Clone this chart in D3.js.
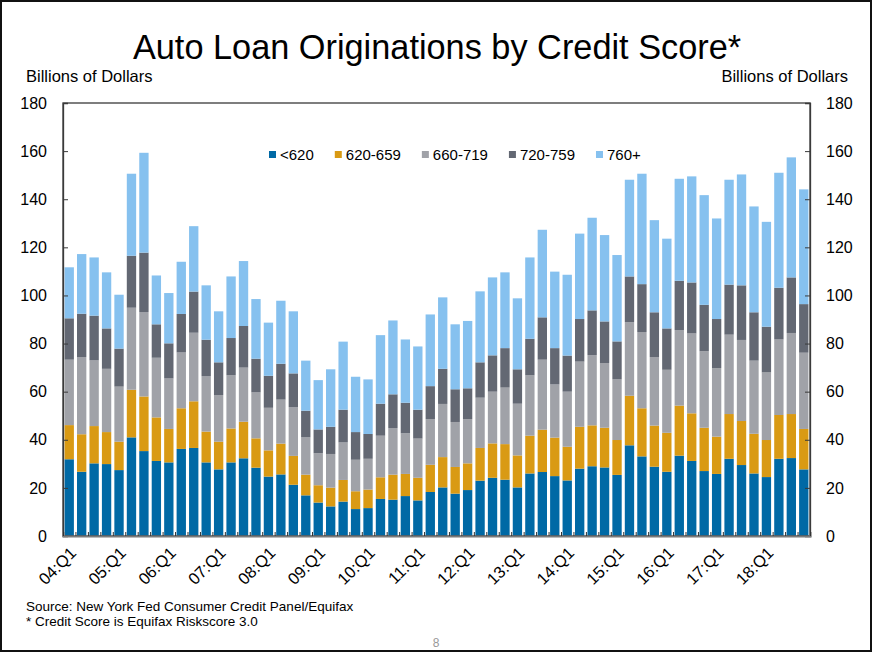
<!DOCTYPE html>
<html>
<head>
<meta charset="utf-8">
<script src="https://cdn.jsdelivr.net/npm/d3@7"></script>
<style>
  body { margin: 0; background: #fff; }
  text { font-family: "Liberation Sans", Arial, sans-serif; fill: #000; }
</style>
</head>
<body>
<div class="canvas"></div>
<script>
// data, billions of dollars per quarter, 04:Q1 .. 18:Q4
const years = ['04','05','06','07','08','09','10','11','12','13','14','15','16','17','18'];
const quarters = years.flatMap(y => ['Q1','Q2','Q3','Q4'].map(q => `${y}:${q}`));
const tickLabels = years.map(y => `${y}:Q1`);

const keys = ['<620', '620-659', '660-719', '720-759', '760+'];
const colors = ['#0069a5', '#d99a14', '#a0a2a8', '#636873', '#86c1ef'];

const below620 = [31.9,26.7,30.2,29.9,27.4,41.0,35.3,31.2,30.6,36.2,36.6,30.6,27.7,30.6,32.3,28.4,24.7,25.6,21.3,16.9,
  13.9,12.3,14.3,11.2,11.6,15.4,15.1,16.6,14.8,18.3,20.2,17.6,19.1,23.0,24.2,23.4,20.2,26.0,26.6,24.9,
  23.1,28.0,29.0,28.5,25.4,37.7,33.1,28.8,26.7,33.4,31.2,27.0,25.8,32.1,29.5,26.0,24.5,32.1,32.4,27.7];
const s620_659 = [14.2,15.6,15.5,13.3,11.8,19.8,22.7,18.1,13.9,16.9,19.4,12.8,11.5,14.1,15.2,12.2,10.9,12.8,12.0,8.6,
  7.2,7.8,9.0,7.4,7.7,9.0,10.4,9.2,9.4,11.3,12.6,11.1,11.1,13.6,14.3,14.8,13.3,15.7,17.6,16.0,
  14.0,17.4,17.0,16.5,14.5,20.6,20.0,17.1,16.2,20.8,19.8,18.0,15.5,18.6,18.3,16.5,15.4,18.2,18.3,16.8];
const s660_719 = [27.2,32.1,27.3,26.3,22.9,34.1,35.1,24.8,21.0,23.2,28.5,23.1,19.4,22.1,22.5,19.1,17.7,18.3,20.3,15.5,
  13.3,14.0,15.6,13.1,12.8,17.3,19.4,16.9,16.3,19.0,22.1,18.7,18.4,20.9,21.5,23.5,21.5,25.1,29.1,22.1,
  22.9,27.1,29.2,26.9,25.2,30.6,31.7,28.5,26.2,31.4,33.2,31.8,28.5,33.0,33.7,30.4,28.1,31.4,33.7,31.7];
const s720_759 = [17.2,18.0,18.6,16.8,15.8,21.6,24.7,13.9,14.6,16.0,17.1,15.1,13.6,15.5,17.3,14.0,13.3,14.9,14.0,11.1,
  9.9,11.3,13.6,11.5,10.3,13.3,14.0,12.7,12.0,13.7,14.6,13.6,12.8,14.7,15.1,16.4,14.3,15.2,17.6,15.1,
  15.0,17.7,18.6,17.3,15.8,19.0,19.9,18.6,17.2,20.5,21.2,19.3,20.4,20.8,22.7,20.1,19.0,21.5,23.1,20.2];
const above760 = [21.2,24.8,24.2,23.3,22.4,34.1,41.5,20.3,20.9,21.7,27.2,22.6,21.2,25.6,27.0,24.8,22.1,26.2,25.8,20.8,
  20.5,23.9,28.3,23.0,22.7,28.5,30.7,26.3,26.3,29.8,29.7,27.0,28.0,29.5,32.4,31.5,29.5,33.8,36.4,31.8,
  33.6,35.5,38.5,35.9,35.9,40.2,45.9,38.3,37.3,42.4,44.1,45.6,41.8,43.6,46.1,44.0,43.6,47.8,49.9,47.7];

const yTicks = [0, 20, 40, 60, 80, 100, 120, 140, 160, 180];

const series = [below620, s620_659, s660_719, s720_759, above760];
const table = quarters.map((q, i) => {
  const row = {quarter: q};
  keys.forEach((k, j) => row[k] = series[j][i]);
  return row;
});

// layout
const W = 872, H = 652;
const plot = {left: 63, right: 810, top: 103, bottom: 536};

const svg = d3.select('.canvas').append('svg')
  .attr('width', W).attr('height', H);

svg.append('rect')
  .attr('x', 1).attr('y', 1).attr('width', W - 2).attr('height', H - 2)
  .attr('fill', '#fff').attr('stroke', '#111').attr('stroke-width', 2);

const x = d3.scaleBand().domain(quarters).range([plot.left, plot.right])
  .paddingInner(0.25).paddingOuter(0.125);
const xEdge = d3.scaleLinear().domain([0, quarters.length]).range([plot.left, plot.right]);
const y = d3.scaleLinear().domain([0, 180]).range([plot.bottom, plot.top]);

const stacked = d3.stack().keys(keys)(table);

// bars
svg.append('g').selectAll('g').data(stacked).join('g')
  .attr('fill', (d, i) => colors[i])
  .selectAll('rect').data(d => d).join('rect')
    .attr('x', d => x(d.data.quarter))
    .attr('width', x.bandwidth())
    .attr('y', d => y(d[1]))
    .attr('height', d => y(d[0]) - y(d[1]));

// frame
svg.append('rect')
  .attr('x', plot.left).attr('y', plot.top)
  .attr('width', plot.right - plot.left).attr('height', plot.bottom - plot.top)
  .attr('fill', 'none').attr('stroke', '#3a3a3a').attr('stroke-width', 1.3);

// y axes, ticks inside
const yLeft = svg.append('g').attr('transform', `translate(${plot.left},0)`)
  .call(d3.axisLeft(y).tickValues(yTicks).tickSize(-5).tickPadding(16));
const yRight = svg.append('g').attr('transform', `translate(${plot.right},0)`)
  .call(d3.axisRight(y).tickValues(yTicks).tickSize(-5).tickPadding(16));
[yLeft, yRight].forEach(g => {
  g.select('.domain').attr('stroke', '#3a3a3a').attr('stroke-width', 1.3);
  g.selectAll('.tick line').attr('stroke', '#3a3a3a');
  g.selectAll('.tick text').style('font-size', '16px').attr('fill', '#000');
});

// bottom axis: small ticks at every bar edge
const xAxis = svg.append('g').attr('transform', `translate(0,${plot.bottom})`)
  .call(d3.axisBottom(xEdge).tickValues(d3.range(0, quarters.length + 1)).tickSize(-4).tickFormat(''));
xAxis.select('.domain').attr('stroke', '#7a7a7a').attr('stroke-width', 2.2);
xAxis.selectAll('.tick line').attr('stroke', '#333');

// rotated Q1 labels
svg.append('g').selectAll('text').data(tickLabels).join('text')
  .attr('transform', d => `translate(${x(d) + x.bandwidth() / 2 + 4},${plot.bottom + 14}) rotate(-45)`)
  .attr('text-anchor', 'end')
  .attr('dy', '0.35em')
  .style('font-size', '16.5px')
  .text(d => d);

// title and axis captions
svg.append('text').attr('x', 437).attr('y', 59).attr('text-anchor', 'middle')
  .style('font-size', '34.3px').text('Auto Loan Originations by Credit Score*');
svg.append('text').attr('x', 26).attr('y', 82).style('font-size', '16.5px').text('Billions of Dollars');
svg.append('text').attr('x', 848).attr('y', 82).attr('text-anchor', 'end')
  .style('font-size', '16.5px').text('Billions of Dollars');

// legend
const legend = svg.append('g').attr('transform', 'translate(269,155)');
let lx = 0;
keys.forEach((k, i) => {
  const item = legend.append('g').attr('transform', `translate(${lx},0)`);
  item.append('rect').attr('x', 0).attr('y', -4).attr('width', 7).attr('height', 7).attr('fill', colors[i]);
  const t = item.append('text').attr('x', 11).attr('dy', '0.35em').style('font-size', '15px').text(k);
  lx += 11 + t.node().getComputedTextLength() + 21;
});

// notes
svg.append('text').attr('x', 26).attr('y', 611).style('font-size', '13.5px')
  .text('Source: New York Fed Consumer Credit Panel/Equifax');
svg.append('text').attr('x', 26).attr('y', 626).style('font-size', '13.5px')
  .text('* Credit Score is Equifax Riskscore 3.0');
svg.append('text').attr('x', 436).attr('y', 647).attr('text-anchor', 'middle')
  .style('font-size', '12px').style('fill', '#999').text('8');
</script>
</body>
</html>
